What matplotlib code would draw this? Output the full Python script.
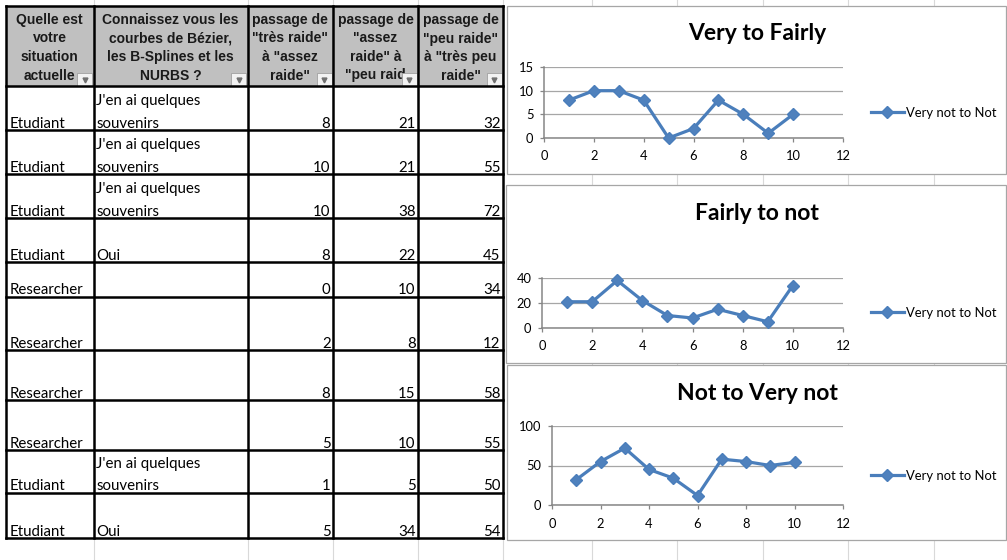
import matplotlib
matplotlib.use('Agg')
import matplotlib.pyplot as plt
from matplotlib.patches import Rectangle

# ---- données du tableau ----
situation = ['Etudiant', 'Etudiant', 'Etudiant', 'Etudiant', 'Researcher',
             'Researcher', 'Researcher', 'Researcher', 'Etudiant', 'Etudiant']
connaissance = ["J'en ai quelques\nsouvenirs", "J'en ai quelques\nsouvenirs",
                "J'en ai quelques\nsouvenirs", 'Oui', '', '', '', '',
                "J'en ai quelques\nsouvenirs", 'Oui']
tres_vers_assez = [8, 10, 10, 8, 0, 2, 8, 5, 1, 5]
assez_vers_peu = [21, 21, 38, 22, 10, 8, 15, 10, 5, 34]
peu_vers_tres_peu = [32, 55, 72, 45, 34, 12, 58, 55, 50, 54]
essais = list(range(1, len(tres_vers_assez) + 1))

headers = [
    ['Quelle est', 'votre', 'situation', 'actuelle'],
    ['Connaissez vous les', 'courbes de Bézier,', 'les B-Splines et les', 'NURBS ?'],
    ['passage de', '"très raide"', 'à "assez', 'raide"'],
    ['passage de', '"assez', 'raide" à', '"peu raid'],
    ['passage de', '"peu raide"', 'à "très peu', 'raide"'],
]

chart_titles = ['Very to Fairly', 'Fairly to not', 'Not to Very not']
series_label = 'Very not to Not'
y_ticks = [[0, 5, 10, 15], [0, 20, 40], [0, 50, 100]]
x_ticks = [0, 2, 4, 6, 8, 10, 12]

# ---- mise en page (pixels) ----
W, H = 1007, 560
col_x = [6, 93.5, 247.5, 333, 418, 503]
row_y = [6, 86, 130, 174, 218, 262, 297, 350, 400, 450, 493, 538]
sheet_cols = [93.5, 247.5, 333, 418, 503, 592, 677, 763, 848, 934]

BODY_FONT = ['Lato', 'DejaVu Sans']
HEAD_FONT = ['Liberation Sans', 'DejaVu Sans']
BLUE = '#4A7EBB'
AXIS_GREY = '#868686'


def fig_rect(x0, y0, x1, y1):
    return [x0 / W, 1 - y1 / H, (x1 - x0) / W, (y1 - y0) / H]


fig = plt.figure(figsize=(W / 100, H / 100), dpi=100)
bg = fig.add_axes([0, 0, 1, 1])
bg.set_xlim(0, W)
bg.set_ylim(H, 0)
bg.axis('off')

# quadrillage de la feuille
for x in sheet_cols:
    bg.plot([x, x], [0, H], color='#D9D9D9', lw=0.8, zorder=0)

# ---- tableau ----
bg.add_patch(Rectangle((col_x[0], row_y[0]), col_x[-1] - col_x[0], row_y[-1] - row_y[0],
                       facecolor='white', edgecolor='none', zorder=1))
bg.add_patch(Rectangle((col_x[0], row_y[0]), col_x[-1] - col_x[0], row_y[1] - row_y[0],
                       facecolor='#C0C0C0', edgecolor='none', zorder=1))

line_y = [20, 38.5, 57, 75.5]
for c, lines in enumerate(headers):
    cx = (col_x[c] + col_x[c + 1]) / 2
    for ly, txt in zip(line_y, lines):
        bg.text(cx, ly, txt, ha='center', va='center', fontsize=10,
                fontweight='bold', family=HEAD_FONT, color='#1A1A1A', zorder=2)
    # bouton de filtre
    bx1 = col_x[c + 1] - 1.5
    bg.add_patch(Rectangle((bx1 - 15, 73), 15, 12.5, facecolor='#F2F2F2',
                           edgecolor='#A0A0A0', lw=0.6, zorder=3))
    bg.plot(bx1 - 7.5, 79.5, marker='v', ms=3.5, color='#707070', zorder=4)

for r in range(len(situation)):
    bottom = row_y[r + 2]
    base = bottom - 2.5
    bg.text(col_x[0] + 4, base, situation[r], ha='left', va='baseline',
            fontsize=10.8, family=BODY_FONT, zorder=2)
    parts = connaissance[r].split('\n') if connaissance[r] else []
    for k, part in enumerate(reversed(parts)):
        bg.text(col_x[1] + 3, base - 22.5 * k, part, ha='left', va='baseline',
                fontsize=10.8, family=BODY_FONT, zorder=2)
    for c, vals in zip([2, 3, 4], [tres_vers_assez, assez_vers_peu, peu_vers_tres_peu]):
        bg.text(col_x[c + 1] - 2.5, base, str(vals[r]), ha='right', va='baseline',
                fontsize=10.8, family=BODY_FONT, zorder=2)

for x in col_x:
    bg.plot([x, x], [row_y[0], row_y[-1]], color='black', lw=1.8, zorder=5,
            solid_capstyle='projecting')
for y in row_y:
    bg.plot([col_x[0], col_x[-1]], [y, y], color='black', lw=1.8, zorder=5,
            solid_capstyle='projecting')

# ---- graphiques ----
boxes = [(507, 6, 1006, 174), (506, 185, 1006, 363), (507, 365, 1006, 540)]
plot_areas = [(544, 67, 843, 138), (542, 278, 843, 328), (552, 426, 843, 505)]
title_y = [34, 213, 393]
legend_y = [113, 313, 476]
series = [tres_vers_assez, assez_vers_peu, peu_vers_tres_peu]

for i in range(3):
    x0, y0, x1, y1 = boxes[i]
    bg.add_patch(Rectangle((x0, y0), x1 - x0, y1 - y0, facecolor='white',
                           edgecolor='#A6A6A6', lw=0.9, zorder=6))
    bg.text(757, title_y[i], chart_titles[i], ha='center', va='center',
            fontsize=16.5, fontweight='bold', family=BODY_FONT, zorder=7)

    ax = fig.add_axes(fig_rect(*plot_areas[i]))
    ax.patch.set_alpha(0)
    ax.plot(essais, series[i], color=BLUE, lw=2.3, marker='D', ms=6,
            markerfacecolor='#4F81BD', markeredgecolor=BLUE, label=series_label,
            clip_on=False, zorder=3)
    ax.set_xlim(0, 12)
    ax.set_ylim(y_ticks[i][0], y_ticks[i][-1])
    ax.set_xticks(x_ticks)
    ax.set_yticks(y_ticks[i])
    ax.yaxis.grid(True, color='#A6A6A6', lw=0.9)
    ax.set_axisbelow(True)
    for s in ['top', 'right']:
        ax.spines[s].set_visible(False)
    for s in ['left', 'bottom']:
        ax.spines[s].set_color(AXIS_GREY)
        ax.spines[s].set_linewidth(1.1)
    ax.tick_params(axis='x', direction='out', length=3, width=0.9, color=AXIS_GREY,
                   pad=6, labelsize=9.3)
    ax.tick_params(axis='y', direction='out', length=3, width=0.9, color=AXIS_GREY,
                   pad=4.5, labelsize=9.3)
    for lab in ax.get_xticklabels() + ax.get_yticklabels():
        lab.set_family(BODY_FONT)

    ax.legend(loc='center left', bbox_to_anchor=(871 / W, 1 - legend_y[i] / H),
              bbox_transform=fig.transFigure, frameon=False, borderpad=0,
              borderaxespad=0, handlelength=2.5, handletextpad=0.15,
              prop={'family': BODY_FONT, 'size': 9.4})

fig.savefig('out.png', dpi=100)
